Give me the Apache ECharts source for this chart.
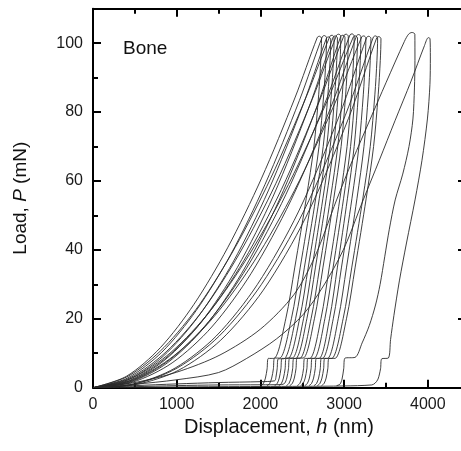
<!DOCTYPE html>
<html><head><meta charset="utf-8">
<script src="https://cdn.jsdelivr.net/npm/echarts@6/dist/echarts.min.js"></script>
<style>html,body{margin:0;padding:0;background:#fff}#c{width:461px;height:451px}</style>
</head><body><div id="c"></div>
<script>
// Displacement h (nm), Load P (mN)
const curve01 = [[0,0],[402,3.35],[804,11.6],[1206,24.2],[1608,40.6],[2010,60.6],[2412,84.1],[2680,101.7],[2705,102.0],[2730,101.4],[2721,95],[2696,85],[2639,70],[2548,55],[2411,35],[2303,20],[2160,8.5],[2095,8.5],[2080,5.5],[2060,2.8],[2035,1.2],[2005,0.6]];
const curve02 = [[0,0],[411,2.8],[822,10.3],[1233,22.4],[1644,38.6],[2055,59.0],[2466,83.4],[2740,101.9],[2765,102.2],[2790,101.6],[2782,95],[2756,85],[2700,70],[2611,55],[2476,35],[2370,20],[2230,8.6],[2170,8.6],[2155,5.5],[2135,2.8],[2110,1.2],[2080,0.6]];
const curve03 = [[0,0],[419,2.3],[837,9.1],[1256,20.6],[1674,36.5],[2093,57.1],[2511,82.2],[2790,101.5],[2815,101.8],[2840,101.2],[2832,95],[2806,85],[2750,70],[2661,55],[2526,35],[2420,20],[2280,8.4],[2215,8.4],[2200,5.5],[2185,3.0],[2170,2.0],[2000,1.75],[1500,1.5],[1000,1.1],[500,0.6],[0,0]];
const curve04 = [[0,0],[425,3.4],[849,11.7],[1274,24.2],[1698,40.7],[2123,60.8],[2547,84.4],[2830,102.0],[2855,102.3],[2880,101.7],[2872,95],[2847,85],[2792,70],[2704,55],[2572,35],[2468,20],[2330,8.5],[2260,8.5],[2245,5.5],[2225,2.8],[2200,1.2],[2170,0.6]];
const curve05 = [[0,0],[431,1.9],[861,8.1],[1292,19.0],[1722,34.8],[2153,55.6],[2583,81.6],[2870,101.8],[2895,102.1],[2920,101.5],[2912,95],[2888,85],[2834,70],[2747,55],[2618,35],[2515,20],[2380,8.6],[2310,8.6],[2295,5.5],[2275,2.8],[2250,1.2],[2220,0.6]];
const curve06 = [[0,0],[437,2.8],[873,10.4],[1310,22.4],[1746,38.8],[2183,59.2],[2619,83.7],[2910,102.3],[2935,102.6],[2960,102.0],[2952,95],[2928,85],[2874,70],[2787,55],[2658,35],[2555,20],[2420,8.5],[2350,8.5],[2335,5.5],[2315,2.8],[2290,1.3],[2250,0.9],[2000,0.85],[1500,0.8],[1000,0.6],[500,0.3],[0,0]];
const curve07 = [[0,0],[444,1.6],[888,7.2],[1332,17.6],[1776,33.2],[2220,54.2],[2664,80.9],[2960,102.0],[2985,102.3],[3010,101.7],[3002,95],[2978,85],[2924,70],[2837,55],[2708,35],[2605,20],[2470,8.5],[2400,8.5],[2385,5.5],[2365,2.8],[2340,1.2],[2310,0.6]];
const curve08 = [[0,0],[450,2.3],[900,9.2],[1350,20.7],[1800,36.8],[2250,57.5],[2700,82.9],[3000,102.3],[3025,102.6],[3050,102.0],[3042,95],[3018,85],[2964,70],[2877,55],[2748,35],[2645,20],[2510,8.6],[2440,8.6],[2425,5.5],[2405,2.8],[2380,1.2],[2350,0.6]];
const curve09 = [[0,0],[461,1.9],[921,8.2],[1382,19.2],[1842,35.0],[2303,56.0],[2763,82.1],[3070,102.4],[3095,102.7],[3120,102.1],[3112,95],[3088,85],[3035,70],[2950,55],[2823,35],[2723,20],[2590,8.5],[2530,8.5],[2515,5.5],[2495,2.8],[2470,1.2],[2440,0.6]];
const curve10 = [[0,0],[467,2.8],[933,10.3],[1400,22.3],[1866,38.6],[2333,58.9],[2799,83.3],[3110,101.8],[3135,102.1],[3160,101.5],[3152,95],[3129,85],[3077,70],[2994,55],[2869,35],[2770,20],[2640,8.5],[2570,8.5],[2555,5.5],[2535,2.8],[2510,1.2],[2480,0.6]];
const curve11 = [[0,0],[473,1.6],[945,7.2],[1418,17.6],[1890,33.2],[2363,54.3],[2835,81.0],[3150,102.2],[3175,102.5],[3200,101.9],[3193,95],[3170,85],[3120,70],[3040,55],[2920,35],[2825,20],[2700,8.5],[2620,8.5],[2605,5.5],[2585,2.8],[2560,1.2],[2530,0.6]];
const curve12 = [[0,0],[482,2.3],[963,9.2],[1445,20.6],[1926,36.7],[2408,57.3],[2889,82.5],[3210,101.8],[3235,102.1],[3260,101.5],[3252,95],[3229,85],[3177,70],[3094,55],[2969,35],[2870,20],[2740,8.5],[2670,8.5],[2655,5.5],[2635,2.8],[2610,1.2],[2580,0.6]];
const curve13 = [[0,0],[491,1.1],[981,5.7],[1472,15.0],[1962,29.9],[2453,51.0],[2943,79.0],[3270,101.7],[3295,102.0],[3320,101.4],[3312,95],[3289,85],[3237,70],[3154,55],[3029,35],[2930,20],[2800,8.5],[2730,8.5],[2715,5.5],[2695,2.8],[2670,1.2],[2640,0.6]];
const curve14 = [[0,0],[503,1.1],[1005,5.7],[1508,15.0],[2010,29.9],[2513,51.0],[3015,79.1],[3350,101.8],[3375,102.1],[3400,101.5],[3392,95],[3367,85],[3312,70],[3224,55],[3092,35],[2988,20],[2850,8.5],[2770,8.5],[2755,5.5],[2735,2.8],[2710,1.2],[2680,0.6]];
const curve15 = [[0,0],[509,0.9],[1017,5.0],[1526,13.8],[2034,28.3],[2543,49.5],[3051,78.1],[3390,101.6],[3415,101.9],[3440,101.3],[3432,95],[3407,85],[3352,70],[3264,55],[3132,35],[3028,20],[2890,8.5],[2820,8.5],[2805,5.5],[2785,2.8],[2760,1.2],[2730,0.6]];
const curve16 = [[0,0],[500,1.5],[1000,4.5],[1517,9.5],[2000,17],[2400,27],[2650,38],[2910,54.5],[3100,66],[3309,77.8],[3500,88.5],[3720,100.5],[3770,102.6],[3810,103.1],[3845,102.6],[3846,95],[3840,87],[3822,78],[3775,70],[3700,62],[3610,54.5],[3540,46],[3485,38],[3430,30],[3375,24],[3300,18],[3215,13],[3130,8.8],[3011,8.6],[2995,5.5],[2975,2.5],[2950,1.0],[2910,0.6]];
const curve17 = [[0,0],[500,1.0],[1000,2.3],[1500,4.4],[1836,8.5],[2194,14.2],[2513,21.3],[2752,29.5],[2990,40],[3228,54.5],[3420,66],[3608,77.5],[3800,89],[3960,99.3],[4006,101.6],[4026,101.3],[4030,96],[4025,88],[3995,78],[3930,66],[3847,54.5],[3745,42],[3660,31],[3595,21],[3555,14],[3528,8.6],[3450,8.4],[3435,5.5],[3405,2.5],[3369,1.3],[3330,0.8],[2990,0.5],[2500,0.4],[2000,0.35],[1500,0.3],[1000,0.2],[500,0.1],[0,0]];

const curves = [curve01,curve02,curve03,curve04,curve05,curve06,curve07,curve08,curve09,curve10,curve11,curve12,curve13,curve14,curve15,curve16,curve17];
const xRange = [0, 4444];
const yRange = [0, 110];
const xMajor = 1000, xMinor = 500, yMajor = 20, yMinor = 10;

const FONT = '"Liberation Sans", Arial, Helvetica, sans-serif';
const chart = echarts.init(document.getElementById('c'), null, {renderer: 'canvas'});
const plain = function (v) { return String(v); };

function xa(pos, interval, tickLen, showLine, label, extra) {
  return Object.assign({
    type: 'value', position: pos, min: xRange[0], max: xRange[1], interval: interval,
    axisLine: {show: showLine, onZero: false, lineStyle: {color: '#000', width: 2}},
    axisTick: {show: true, inside: true, length: tickLen, lineStyle: {color: '#000', width: 2}},
    axisLabel: label ? {show: true, margin: 9, fontSize: 16, color: '#1a1a1a', fontFamily: FONT, showMaxLabel: false, formatter: plain} : {show: false},
    splitLine: {show: false}
  }, extra || {});
}
function ya(pos, interval, tickLen, showLine, label, extra) {
  return Object.assign({
    type: 'value', position: pos, min: yRange[0], max: yRange[1], interval: interval,
    axisLine: {show: showLine, onZero: false, lineStyle: {color: '#000', width: 2}},
    axisTick: {show: true, inside: true, length: tickLen, lineStyle: {color: '#000', width: 2}},
    axisLabel: label ? {show: true, margin: 10, fontSize: 16, color: '#1a1a1a', fontFamily: FONT, showMaxLabel: false, formatter: plain} : {show: false},
    splitLine: {show: false}
  }, extra || {});
}

const option = {
  animation: false,
  backgroundColor: '#fff',
  grid: {left: 93, top: 8.7, width: 372, height: 379, containLabel: false, outerBoundsMode: 'none'},
  xAxis: [
    xa('bottom', xMajor, 8, true, true, {
      name: '{n|Displacement, }{i|h}{n| (nm)}', nameLocation: 'middle', nameGap: 27,
      nameTextStyle: {rich: {
        n: {fontSize: 20, fontFamily: FONT, color: '#111'},
        i: {fontSize: 20, fontFamily: FONT, fontStyle: 'italic', color: '#111'}
      }}
    }),
    xa('bottom', xMinor, 5, false, false),
    xa('top', xMajor, 8, true, false),
    xa('top', xMinor, 5, false, false)
  ],
  yAxis: [
    ya('left', yMajor, 8, true, true, {
      name: '{n|Load, }{i|P}{n| (mN)}', nameLocation: 'middle', nameGap: 63,
      nameTextStyle: {rich: {
        n: {fontSize: 19, fontFamily: FONT, color: '#111'},
        i: {fontSize: 19, fontFamily: FONT, fontStyle: 'italic', color: '#111'}
      }}
    }),
    ya('left', yMinor, 5, false, false),
    ya('right', yMajor, 7, true, false)
  ],
  graphic: [{
    type: 'text', left: 123, top: 39,
    style: {text: 'Bone', fontSize: 19, fontFamily: FONT, fill: '#111'}
  }],
  series: curves.map(function (d) {
    return {
      type: 'line', data: d, xAxisIndex: 0, yAxisIndex: 0,
      showSymbol: false, symbol: 'none', smooth: 0.3, silent: true,
      lineStyle: {color: '#2a2a2a', width: 0.9}
    };
  })
};
chart.setOption(option);
</script>
</body></html>
